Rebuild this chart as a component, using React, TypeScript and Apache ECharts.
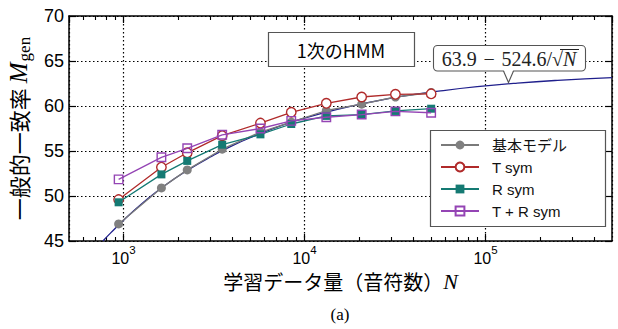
import React, { useEffect, useRef } from 'react';
import * as echarts from 'echarts';

// training data size N (number of notes)
const sampleSizes = [940, 1620, 2250, 3510, 5710, 8450, 13200, 20700, 31800, 50100];
// general match rate M_gen (%)
const baseModel = [46.9, 50.9, 52.9, 55.2, 57.1, 58.2, 59.5, 60.2, 61.0, 61.5];
const tSym = [49.6, 53.2, 54.8, 56.7, 58.1, 59.3, 60.3, 61.0, 61.3, 61.35];
const rSym = [49.3, 52.4, 53.9, 55.7, 56.85, 58.0, 58.9, 59.05, 59.45, 59.7];
const trSym = [51.85, 54.3, 55.3, 56.8, 57.5, 58.35, 58.75, 59.05, 59.4, 59.25];

// fitted curve (63.9 - 524.6/sqrt(N))
const fitN = [770, 850, 1000, 1300, 1700, 2300, 3000, 4000, 5500, 7500, 10000, 15000, 22000, 35000, 55000, 90000, 150000, 250000, 500000];
const fitValues = [45.0, 45.9, 47.3, 49.35, 51.2, 52.95, 54.3, 55.6, 56.8, 57.85, 58.65, 59.6, 60.35, 61.1, 61.65, 62.15, 62.55, 62.85, 63.15];

const minorTicks = [600, 700, 800, 900, 2000, 3000, 4000, 5000, 6000, 7000, 8000, 9000, 20000, 30000, 40000, 50000, 60000, 70000, 80000, 90000, 200000, 300000, 400000];

const seriesNames = ['基本モデル', 'T sym', 'R sym', 'T + R sym'];

const SANS = '"Liberation Sans", "Noto Sans CJK JP", sans-serif';
const CJK = '"Noto Sans CJK JP", "Liberation Sans", sans-serif';
const SERIF = '"Liberation Serif", "DejaVu Serif", serif';

const pairs = (ys: number[]) => sampleSizes.map((n, i) => [n, ys[i]]);

export default function App() {
  const ref = useRef<HTMLDivElement>(null);
  useEffect(() => {
    document.body.style.margin = '0';
    const chart = echarts.init(ref.current!, undefined, { renderer: 'svg' });
    const logAxisBase = {
      type: 'log' as const,
      logBase: 10,
      min: 500,
      max: 500000,
      gridIndex: 0,
    };
    const option: any = {
      animation: false,
      backgroundColor: '#fff',
      grid: { left: 69, top: 16, width: 543, height: 225, containLabel: false, outerBoundsMode: 'none' },
      xAxis: [
        {
          ...logAxisBase,
          position: 'bottom',
          name: '学習データ量（音符数）{n|N}',
          nameLocation: 'middle',
          nameGap: 23,
          nameTextStyle: {
            fontFamily: CJK,
            fontSize: 20,
            color: '#000',
            rich: { n: { fontFamily: SERIF, fontStyle: 'italic', fontSize: 22, color: '#000' } },
          },
          axisLine: { show: true, onZero: false, lineStyle: { color: '#000', width: 1.5 } },
          axisTick: { show: true, inside: true, length: 7, lineStyle: { color: '#000', width: 1.2 } },
          axisLabel: {
            show: true,
            showMinLabel: false,
            showMaxLabel: false,
            margin: 3,
            color: '#000',
            fontFamily: SANS,
            formatter: (v: number) => '{b|10}{s|' + Math.round(Math.log10(v)) + '}',
            rich: {
              b: { fontSize: 16, fontFamily: SANS, color: '#000', padding: [6, 0, 0, 0], verticalAlign: 'bottom' },
              s: { fontSize: 11.5, fontFamily: SANS, color: '#000', verticalAlign: 'top' },
            },
          },
          splitLine: { show: true, lineStyle: { type: [1.5, 2.5], color: '#000', width: 1.2 } },
          minorTick: { show: false },
        },
        {
          ...logAxisBase,
          position: 'bottom',
          axisLine: { show: false },
          axisTick: { show: true, inside: true, length: 4, customValues: minorTicks, lineStyle: { color: '#000', width: 1.1 } },
          axisLabel: { show: false },
          splitLine: { show: false },
        },
        {
          ...logAxisBase,
          position: 'top',
          axisLine: { show: true, onZero: false, lineStyle: { color: '#000', width: 1.5 } },
          axisTick: { show: true, inside: true, length: 7, lineStyle: { color: '#000', width: 1.2 } },
          axisLabel: { show: false },
          splitLine: { show: false },
        },
        {
          ...logAxisBase,
          position: 'top',
          axisLine: { show: false },
          axisTick: { show: true, inside: true, length: 4, customValues: minorTicks, lineStyle: { color: '#000', width: 1.1 } },
          axisLabel: { show: false },
          splitLine: { show: false },
        },
      ],
      yAxis: [
        {
          type: 'value',
          position: 'left',
          min: 45,
          max: 70,
          interval: 5,
          name: '一般的一致率 {m|M}{sub|gen}',
          nameLocation: 'middle',
          nameGap: 31,
          nameTextStyle: {
            fontFamily: CJK,
            fontSize: 22,
            color: '#000',
            rich: {
              m: { fontFamily: SERIF, fontStyle: 'italic', fontSize: 25, color: '#000' },
              sub: { fontFamily: SERIF, fontSize: 17, color: '#000', padding: [13, 0, 0, 1] },
            },
          },
          axisLine: { show: true, onZero: false, lineStyle: { color: '#000', width: 1.5 } },
          axisTick: { show: true, inside: true, length: 7, lineStyle: { color: '#000', width: 1.2 } },
          axisLabel: { show: true, margin: 5, fontSize: 18, fontFamily: SANS, color: '#000' },
          splitLine: { show: true, lineStyle: { type: [1.5, 2.5], color: '#000', width: 1.2 } },
        },
        {
          type: 'value',
          position: 'right',
          min: 45,
          max: 70,
          interval: 5,
          axisLine: { show: true, onZero: false, lineStyle: { color: '#000', width: 1.5 } },
          axisTick: { show: true, inside: true, length: 7, lineStyle: { color: '#000', width: 1.2 } },
          axisLabel: { show: false },
          splitLine: { show: false },
        },
      ],
      legend: {
        orient: 'vertical',
        left: 440,
        top: 137,
        padding: 0,
        itemWidth: 38,
        itemHeight: 11,
        itemGap: 6,
        z: 10,
        data: seriesNames,
        textStyle: { fontSize: 15, fontWeight: 'normal', fontFamily: SANS, color: '#111', lineHeight: 16, padding: [0, 0, 0, 8] },
      },
      graphic: [
        {
          type: 'rect',
          z: 5,
          shape: { x: 430.5, y: 130.5, width: 175, height: 96 },
          style: { fill: '#fff', stroke: '#555', lineWidth: 1.2 },
        },
        {
          type: 'rect',
          z: 5,
          shape: { x: 268.5, y: 32.5, width: 146, height: 34 },
          style: { fill: '#fff', stroke: '#555', lineWidth: 1.2 },
        },
        {
          type: 'text',
          z: 6,
          x: 341,
          y: 49.5,
          style: { text: '1次のHMM', fontFamily: CJK, fontSize: 18, fill: '#000', align: 'center', verticalAlign: 'middle' },
        },
        {
          type: 'rect',
          z: 5,
          shape: { x: 433.5, y: 45.5, width: 152, height: 25.5, r: 4 },
          style: { fill: '#fff', stroke: '#555', lineWidth: 1.1 },
        },
        {
          type: 'polygon',
          z: 6,
          shape: { points: [[503.5, 69.5], [513.5, 69.5], [508.5, 82.5]] },
          style: { fill: '#fff', stroke: null },
        },
        {
          type: 'polyline',
          z: 6,
          shape: { points: [[503.5, 71], [508.5, 82.5], [513.5, 71]] },
          style: { fill: null, stroke: '#555', lineWidth: 1.1 },
        },
        {
          type: 'text',
          z: 7,
          x: 563,
          y: 59,
          style: {
            text: '63.9\u2004−\u2004524.6/√',
            fontFamily: SERIF,
            fontSize: 20,
            fill: '#222',
            align: 'right',
            verticalAlign: 'middle',
          },
        },
        {
          type: 'text',
          z: 7,
          x: 563,
          y: 59,
          style: {
            text: 'N',
            fontFamily: SERIF,
            fontStyle: 'italic',
            fontSize: 20,
            fill: '#222',
            align: 'left',
            verticalAlign: 'middle',
          },
        },
        {
          type: 'line',
          z: 7,
          shape: { x1: 560, y1: 49.5, x2: 579, y2: 49.5 },
          style: { stroke: '#222', lineWidth: 1 },
        },
        {
          type: 'text',
          x: 340,
          y: 314,
          style: { text: '(a)', fontFamily: SERIF, fontSize: 17, fill: '#000', align: 'center', verticalAlign: 'middle' },
        },
      ],
      series: [
        {
          name: 'fit',
          type: 'line',
          xAxisIndex: 0,
          yAxisIndex: 0,
          data: fitN.map((n, i) => [n, fitValues[i]]),
          symbol: 'none',
          smooth: true,
          lineStyle: { color: '#1f1f8c', width: 1.3 },
          itemStyle: { color: '#1f1f8c' },
          z: 2,
          silent: true,
        },
        {
          name: seriesNames[0],
          type: 'line',
          data: pairs(baseModel),
          symbol: 'circle',
          symbolSize: 9,
          lineStyle: { color: '#7a7a7a', width: 1.3 },
          itemStyle: { color: '#808080' },
          z: 3,
        },
        {
          name: seriesNames[1],
          type: 'line',
          data: pairs(tSym),
          symbol: 'circle',
          symbolSize: 9.5,
          lineStyle: { color: '#b02a2a', width: 1.3 },
          itemStyle: { color: '#fff', borderColor: '#b02a2a', borderWidth: 1.4 },
          z: 4,
        },
        {
          name: seriesNames[2],
          type: 'line',
          data: pairs(rSym),
          symbol: 'rect',
          symbolSize: 8,
          lineStyle: { color: '#157a73', width: 1.3 },
          itemStyle: { color: '#157a73' },
          z: 5,
        },
        {
          name: seriesNames[3],
          type: 'line',
          data: pairs(trSym),
          symbol: 'rect',
          symbolSize: 8.5,
          lineStyle: { color: '#9444b4', width: 1.3 },
          itemStyle: { color: 'rgba(255,255,255,0)', borderColor: '#9444b4', borderWidth: 1.4 },
          z: 6,
        },
      ],
    };
    chart.setOption(option);
    return () => chart.dispose();
  }, []);
  return <div ref={ref} style={{ width: 618, height: 329 }} />;
}
